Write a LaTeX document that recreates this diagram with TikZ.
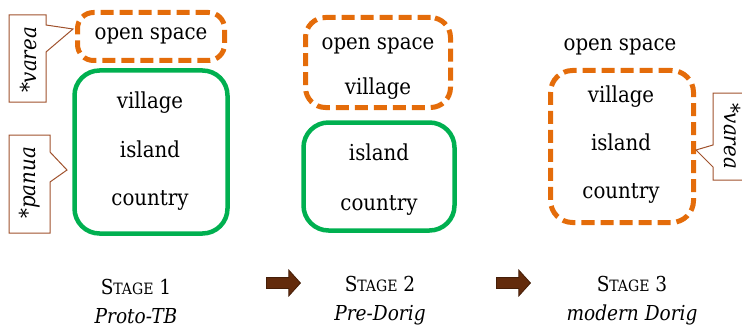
\documentclass[tikz,border=0pt]{standalone}
\usepackage{fontspec}
\setmainfont{DejaVu Serif Condensed}
\usetikzlibrary{shapes.arrows}
\definecolor{boxorange}{HTML}{E46C0A}
\definecolor{boxgreen}{HTML}{00B050}
\definecolor{notebrown}{HTML}{A0522D}
\definecolor{arrowbrown}{HTML}{632B0C}
\newcommand{\stagename}[1]{S{\fontsize{7.8}{9}\selectfont TAGE} #1}

\begin{document}
\begin{tikzpicture}[x=0.5pt, y=-0.5pt,
        every node/.style={font=\fontsize{11}{13}\selectfont},
        orangebox/.style={rectangle, draw=boxorange, line width=2.5pt, dash pattern=on 6.5pt off 3pt, rounded corners=8pt, inner sep=0pt},
        greenbox/.style={rectangle, draw=boxgreen, line width=2.25pt, rounded corners=12.5pt, inner sep=0pt},
        word/.style={anchor=base, inner sep=0pt},
        note/.style={draw=notebrown, line width=0.5pt, fill=white},
        notetext/.style={font=\itshape\fontsize{11}{13}\selectfont, inner sep=0pt},
        stagetext/.style={align=center, font=\fontsize{10.3}{14.5}\selectfont},
        stagearrow/.style={single arrow, draw=arrowbrown!70!black, line width=0.4pt, fill=arrowbrown, inner xsep=0pt, inner ysep=2.5pt, single arrow head extend=3.75pt, single arrow tip angle=96, minimum height=17pt}
    ]
        \clip (0,0) rectangle (742,326);

        % stage 1
        \node[orangebox, minimum width=73.5pt, minimum height=24pt] (box1a) at (151,36.5) {};
        \node[greenbox, minimum width=76.5pt, minimum height=81.5pt] (box1b) at (151,152) {};
        \node[word] (space1) at (151,40) {open space};
        \node[word] (village1) at (150,108) {village};
        \node[word] (island1) at (150,157) {island};
        \node[word] (country1) at (150,205) {country};
        \coordinate (tip1) at (73,29);
        \coordinate (tip2) at (67,170);
        \draw[note] (9,15) -- (46,15) -- (46,25) -- (tip1) -- (46,52) -- (46,102) -- (9,102) -- cycle;
        \node[notetext, rotate=90] (varea1) at (28,60) {*varea};
        \draw[note] (9,135) -- (50,135) -- (50,152) -- (tip2) -- (50,182) -- (50,233) -- (9,233) -- cycle;
        \node[notetext, rotate=90] (panua1) at (30,183) {*panua};

        % stage 2
        \node[orangebox, rounded corners=10pt, minimum width=72.5pt, minimum height=45pt] (box2a) at (378,62.5) {};
        \node[greenbox, minimum width=75.5pt, minimum height=54pt] (box2b) at (379,176.5) {};
        \node[word] (space2) at (378,50) {open space};
        \node[word] (village2) at (378,94) {village};
        \node[word] (island2) at (379,160) {island};
        \node[word] (country2) at (379,210) {country};

        % stage 3
        \node[orangebox, rounded corners=11pt, minimum width=71.5pt, minimum height=76pt] (box3) at (622,146.5) {};
        \node[word] (space3) at (620,51) {open space};
        \node[word] (village3) at (621,102) {village};
        \node[word] (island3) at (621,150) {island};
        \node[word] (country3) at (621,198) {country};
        \coordinate (tip3) at (696,150);
        \draw[note] (760,93) -- (713,93) -- (713,145) -- (tip3) -- (713,167) -- (713,180) -- (760,180) -- cycle;
        \node[notetext, rotate=-90] (varea3) at (732,136) {*varea};

        % stages
        \node[stagetext] (stage1) at (136,301) {\stagename{1}\\\textit{Proto-TB}};
        \node[stagetext] (stage2) at (380,301) {\stagename{2}\\\textit{Pre-Dorig}};
        \node[stagetext] (stage3) at (632,301) {\stagename{3}\\\textit{modern Dorig}};
        \node[stagearrow] (arrow1) at (281,283) {};
        \node[stagearrow] (arrow2) at (511,283) {};
    \end{tikzpicture}
\end{document}
